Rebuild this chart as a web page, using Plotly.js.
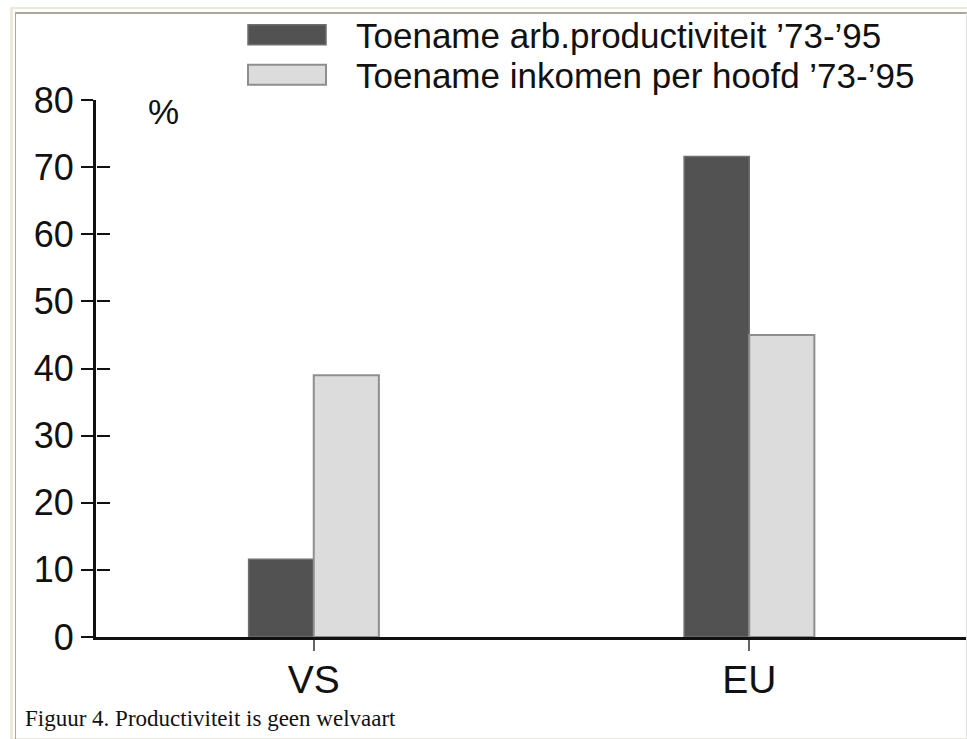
<!DOCTYPE html>
<html>
<head>
<meta charset="utf-8">
<script src="https://cdn.plot.ly/plotly-3.0.1.min.js"></script>
<style>
  body { margin: 0; background: #ffffff; }
  #wrap { position: relative; width: 967px; height: 739px; overflow: hidden; }
  #chart { position: absolute; left: 0; top: 0; width: 967px; height: 739px; }
  .frameOuter { position: absolute; left: 10px; top: 7px; width: 970px; height: 729px;
    border-left: 3px solid #ece9d8; border-top: 2px solid #ece9d8; border-bottom: 2px solid #ece9d8; pointer-events: none; }
  .frameInner { position: absolute; left: 15px; top: 12px; width: 950px; height: 740px;
    border-left: 1px solid #aca899; border-top: 2px solid #aca899; border-right: 1px solid #e4e4e4; pointer-events: none; }
</style>
</head>
<body>
<div id="wrap">
  <div id="chart"></div>
  <div class="frameOuter"></div>
  <div class="frameInner"></div>
</div>
<script>
// ---- data ----
const categories = ['VS', 'EU'];
const productivityGrowth = [11.6, 71.6];
const incomeGrowth = [39.0, 45.0];
const seriesNames = ['Toename arb.productiviteit \u201973-\u201995', 'Toename inkomen per hoofd \u201973-\u201995'];
const yTickValues = [0, 10, 20, 30, 40, 50, 60, 70, 80];
const captionText = 'Figuur 4. Productiviteit is geen welvaart';
const unitLabel = '%';

// ---- layout helpers (pixel -> paper) ----
const L = 96, R = 967, T = 100, B = 637;
const px = x => (x - L) / (R - L);
const py = y => (B - y) / (B - T);
const sans = 'Liberation Sans, Arial, Helvetica, sans-serif';

const traces = [
  {
    type: 'bar', x: categories, y: productivityGrowth, name: seriesNames[0],
    marker: { color: '#525252', line: { color: '#6e6e6e', width: 1.5 } },
    legend: 'legend', hoverinfo: 'x+y+name'
  },
  {
    type: 'bar', x: categories, y: incomeGrowth, name: seriesNames[1],
    marker: { color: '#dcdcdc', line: { color: '#8e8e8e', width: 2 } },
    legend: 'legend2', hoverinfo: 'x+y+name'
  },
  // invisible helper trace so the overlaid axis (inner half of the cross ticks) is drawn
  {
    type: 'scatter', mode: 'lines', line: { width: 0, color: 'rgba(0,0,0,0)' },
    x: categories, y: incomeGrowth, xaxis: 'x', yaxis: 'y2',
    showlegend: false, hoverinfo: 'skip'
  }
];

const legendCommon = {
  xanchor: 'left', yanchor: 'middle', bgcolor: 'rgba(0,0,0,0)', borderwidth: 0,
  font: { family: sans, size: 35, color: '#111' }, itemwidth: 128, itemclick: false, itemdoubleclick: false
};

const layout = {
  width: 967, height: 739,
  margin: { l: L, r: 967 - R, t: T, b: 739 - B, pad: 0 },
  paper_bgcolor: '#ffffff', plot_bgcolor: '#ffffff',
  barmode: 'group', bargap: 0.701, bargroupgap: 0,
  showlegend: true,
  legend: Object.assign({ x: px(218), y: py(35) }, legendCommon),
  legend2: Object.assign({ x: px(218), y: py(75) }, legendCommon),
  xaxis: {
    type: 'category', range: [-0.5, 1.5], fixedrange: true,
    showline: true, linecolor: '#111', linewidth: 3,
    ticks: 'outside', ticklen: 11, tickwidth: 2, tickcolor: '#666',
    ticklabelstandoff: -5,
    tickfont: { family: sans, size: 39, color: '#111' },
    showgrid: false, zeroline: false
  },
  yaxis: {
    range: [0, 80], tickmode: 'array', tickvals: yTickValues, fixedrange: true,
    showline: true, linecolor: '#111', linewidth: 3,
    ticks: 'outside', ticklen: 12, tickwidth: 2, tickcolor: '#111',
    ticksuffix: '\u2004',
    tickfont: { family: sans, size: 36, color: '#111' },
    showgrid: false, zeroline: false
  },
  yaxis2: {
    overlaying: 'y', anchor: 'free', position: 0, side: 'left', range: [0, 80],
    tickmode: 'array', tickvals: yTickValues,
    ticks: 'inside', ticklen: 13, tickwidth: 2, tickcolor: '#111',
    showticklabels: false, showline: false, showgrid: false, zeroline: false, fixedrange: true
  },
  annotations: [
    { xref: 'paper', yref: 'paper', x: px(163), y: py(111), text: unitLabel, showarrow: false,
      xanchor: 'center', yanchor: 'middle', font: { family: sans, size: 35, color: '#111' } },
    { xref: 'paper', yref: 'paper', x: px(23), y: py(718), text: captionText, showarrow: false,
      xanchor: 'left', yanchor: 'middle', font: { family: 'Liberation Serif, Times New Roman, serif', size: 23, color: '#111' } }
  ]
};

function widenSwatches() {
  // widen the legend swatches to match the original rectangular keys
  document.querySelectorAll('#chart g.legendpoints path').forEach(p => {
    p.setAttribute('d', 'M39,10H-39V-10H39Z');
  });
}

Plotly.newPlot('chart', traces, layout, { displayModeBar: false }).then(gd => {
  widenSwatches();
  gd.on('plotly_afterplot', widenSwatches);
  setTimeout(widenSwatches, 50);
});
</script>
</body>
</html>
